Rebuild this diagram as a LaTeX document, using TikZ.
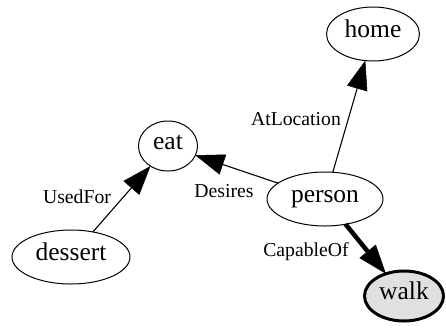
\documentclass[tikz,border=0pt]{standalone}
\usepackage{fontspec}
\setmainfont{Liberation Serif}
\usetikzlibrary{arrows.meta,shapes.geometric}
\definecolor{walkfill}{RGB}{224,224,224}
\tikzset{
  gnode/.style={ellipse,draw,line width=1pt,inner sep=0pt,outer sep=0pt,
    font=\fontsize{25.5}{30}\selectfont,text height=0.85em,text depth=0.1em},
  elabel/.style={inner sep=0pt,font=\fontsize{19.7}{24}\selectfont},
  gedge/.style={line width=1.1pt,-{Triangle[length=29pt,width=21pt,line width=0.5pt]}},
  boldedge/.style={line width=4.5pt,-{Triangle[length=29pt,width=21pt,line width=0.5pt]}},
}
\begin{document}
\begin{tikzpicture}[x=1pt,y=-1pt]
\useasboundingbox (0,0) rectangle (446,327);
\node[gnode,minimum width=93pt,minimum height=54pt] (home) at (373,34) {home};
\node[gnode,minimum width=59pt,minimum height=50pt] (eat) at (168,146) {eat};
\node[gnode,minimum width=116pt,minimum height=54pt] (person) at (325,199) {person};
\node[gnode,minimum width=118pt,minimum height=54pt] (dessert) at (71,257) {dessert};
\node[gnode,line width=3pt,fill=walkfill,minimum width=79pt,minimum height=50pt] (walk) at (404,296) {walk};
\draw[gedge] (person) -- (home);
\draw[gedge] (person) -- (eat);
\draw[gedge] (dessert) -- (eat);
\draw[boldedge] (person) -- (walk);
\node[elabel] (lAt) at (296,119) {AtLocation};
\node[elabel] (lDes) at (224,191) {Desires};
\node[elabel] (lUsed) at (77,196.5) {UsedFor};
\node[elabel] (lCap) at (306,251.5) {CapableOf};
\end{tikzpicture}
\end{document}
